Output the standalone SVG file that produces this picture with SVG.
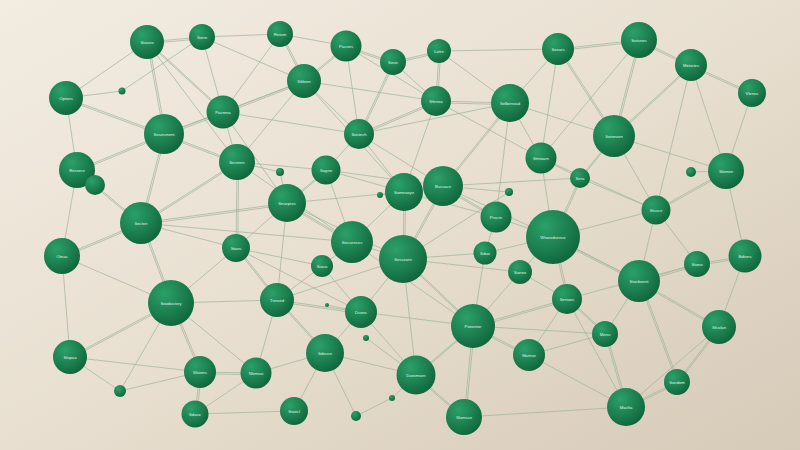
<svg xmlns="http://www.w3.org/2000/svg" xmlns:xlink="http://www.w3.org/1999/xlink" width="800" height="450" viewBox="0 0 800 450">
<defs>
<linearGradient id="bg" x1="0" y1="0" x2="1" y2="1">
<stop offset="0" stop-color="#f2ece1"/>
<stop offset="0.5" stop-color="#e8dfd0"/>
<stop offset="1" stop-color="#d6cab8"/>
</linearGradient>
<radialGradient id="ng" cx="0.35" cy="0.3" r="0.8">
<stop offset="0" stop-color="#2ca069"/>
<stop offset="0.55" stop-color="#1b7f4e"/>
<stop offset="1" stop-color="#106039"/>
</radialGradient>
<style>
.e line{stroke:#9bb098;stroke-width:0.75;fill:none;opacity:0.9}
.n circle{fill:url(#ng)}
.n text{font-family:"Liberation Sans",Arial,sans-serif;font-size:4.2px;fill:#e3f0e7;text-anchor:middle;dominant-baseline:central}
</style>
</defs>
<rect width="800" height="450" fill="url(#bg)"/>
<g id="connectors" class="e">
<g id="single">
<line x1="202" y1="37" x2="280" y2="34"/>
<line x1="280" y1="34" x2="346" y2="46"/>
<line x1="439" y1="51" x2="558" y2="49"/>
<line x1="147" y1="42" x2="66" y2="98"/>
<line x1="202" y1="37" x2="122" y2="91"/>
<line x1="66" y1="98" x2="122" y2="91"/>
<line x1="202" y1="37" x2="223" y2="112"/>
<line x1="202" y1="37" x2="304" y2="81"/>
<line x1="66" y1="98" x2="77" y2="170"/>
<line x1="223" y1="112" x2="237" y2="162"/>
<line x1="223" y1="112" x2="280" y2="34"/>
<line x1="393" y1="62" x2="436" y2="101"/>
<line x1="304" y1="81" x2="436" y2="101"/>
<line x1="304" y1="81" x2="359" y2="134"/>
<line x1="304" y1="81" x2="237" y2="162"/>
<line x1="346" y1="46" x2="359" y2="134"/>
<line x1="439" y1="51" x2="510" y2="103"/>
<line x1="510" y1="103" x2="558" y2="49"/>
<line x1="359" y1="134" x2="510" y2="103"/>
<line x1="558" y1="49" x2="541" y2="158"/>
<line x1="639" y1="40" x2="541" y2="158"/>
<line x1="752" y1="93" x2="726" y2="171"/>
<line x1="691" y1="65" x2="726" y2="171"/>
<line x1="691" y1="65" x2="656" y2="210"/>
<line x1="510" y1="103" x2="541" y2="158"/>
<line x1="510" y1="103" x2="496" y2="217"/>
<line x1="510" y1="103" x2="614" y2="136"/>
<line x1="77" y1="170" x2="95" y2="185"/>
<line x1="77" y1="170" x2="62" y2="256"/>
<line x1="141" y1="223" x2="236" y2="248"/>
<line x1="236" y1="248" x2="287" y2="203"/>
<line x1="326" y1="170" x2="237" y2="162"/>
<line x1="326" y1="170" x2="359" y2="134"/>
<line x1="326" y1="170" x2="404" y2="192"/>
<line x1="287" y1="203" x2="280" y2="172"/>
<line x1="280" y1="172" x2="237" y2="162"/>
<line x1="404" y1="192" x2="443" y2="186"/>
<line x1="403" y1="259" x2="352" y2="242"/>
<line x1="403" y1="259" x2="485" y2="253"/>
<line x1="443" y1="186" x2="359" y2="134"/>
<line x1="404" y1="192" x2="359" y2="134"/>
<line x1="380" y1="195" x2="404" y2="192"/>
<line x1="509" y1="192" x2="443" y2="186"/>
<line x1="485" y1="253" x2="496" y2="217"/>
<line x1="520" y1="272" x2="553" y2="237"/>
<line x1="352" y1="242" x2="326" y2="170"/>
<line x1="352" y1="242" x2="322" y2="266"/>
<line x1="322" y1="266" x2="277" y2="300"/>
<line x1="541" y1="158" x2="580" y2="178"/>
<line x1="541" y1="158" x2="553" y2="237"/>
<line x1="614" y1="136" x2="656" y2="210"/>
<line x1="691" y1="172" x2="726" y2="171"/>
<line x1="726" y1="171" x2="745" y2="256"/>
<line x1="656" y1="210" x2="697" y2="264"/>
<line x1="656" y1="210" x2="639" y2="281"/>
<line x1="553" y1="237" x2="656" y2="210"/>
<line x1="553" y1="237" x2="496" y2="217"/>
<line x1="553" y1="237" x2="485" y2="253"/>
<line x1="171" y1="303" x2="277" y2="300"/>
<line x1="171" y1="303" x2="120" y2="391"/>
<line x1="70" y1="357" x2="120" y2="391"/>
<line x1="70" y1="357" x2="200" y2="372"/>
<line x1="120" y1="391" x2="200" y2="372"/>
<line x1="195" y1="414" x2="256" y2="373"/>
<line x1="195" y1="414" x2="294" y2="411"/>
<line x1="256" y1="373" x2="277" y2="300"/>
<line x1="62" y1="256" x2="171" y2="303"/>
<line x1="62" y1="256" x2="70" y2="357"/>
<line x1="171" y1="303" x2="236" y2="248"/>
<line x1="277" y1="300" x2="287" y2="203"/>
<line x1="361" y1="312" x2="325" y2="353"/>
<line x1="325" y1="353" x2="416" y2="375"/>
<line x1="325" y1="353" x2="256" y2="373"/>
<line x1="294" y1="411" x2="325" y2="353"/>
<line x1="392" y1="398" x2="416" y2="375"/>
<line x1="356" y1="416" x2="392" y2="398"/>
<line x1="325" y1="353" x2="356" y2="416"/>
<line x1="416" y1="375" x2="361" y2="312"/>
<line x1="403" y1="259" x2="416" y2="375"/>
<line x1="366" y1="338" x2="416" y2="375"/>
<line x1="327" y1="305" x2="361" y2="312"/>
<line x1="567" y1="299" x2="529" y2="355"/>
<line x1="529" y1="355" x2="626" y2="407"/>
<line x1="464" y1="417" x2="626" y2="407"/>
<line x1="605" y1="334" x2="473" y2="326"/>
<line x1="567" y1="299" x2="520" y2="272"/>
<line x1="473" y1="326" x2="520" y2="272"/>
<line x1="639" y1="281" x2="605" y2="334"/>
<line x1="745" y1="256" x2="719" y2="327"/>
<line x1="147" y1="42" x2="237" y2="162"/>
<line x1="164" y1="134" x2="304" y2="81"/>
<line x1="223" y1="112" x2="287" y2="203"/>
<line x1="352" y1="242" x2="473" y2="326"/>
<line x1="287" y1="203" x2="404" y2="192"/>
<line x1="141" y1="223" x2="352" y2="242"/>
<line x1="361" y1="312" x2="473" y2="326"/>
<line x1="236" y1="248" x2="361" y2="312"/>
<line x1="443" y1="186" x2="580" y2="178"/>
<line x1="614" y1="136" x2="726" y2="171"/>
<line x1="553" y1="237" x2="639" y2="281"/>
<line x1="403" y1="259" x2="520" y2="272"/>
<line x1="436" y1="101" x2="404" y2="192"/>
<line x1="346" y1="46" x2="436" y2="101"/>
<line x1="567" y1="299" x2="697" y2="264"/>
<line x1="223" y1="112" x2="359" y2="134"/>
<line x1="304" y1="81" x2="404" y2="192"/>
<line x1="326" y1="170" x2="443" y2="186"/>
<line x1="352" y1="242" x2="404" y2="192"/>
<line x1="287" y1="203" x2="403" y2="259"/>
<line x1="237" y1="162" x2="352" y2="242"/>
<line x1="403" y1="259" x2="509" y2="192"/>
<line x1="404" y1="192" x2="496" y2="217"/>
<line x1="443" y1="186" x2="553" y2="237"/>
<line x1="436" y1="101" x2="541" y2="158"/>
<line x1="580" y1="178" x2="656" y2="210"/>
<line x1="541" y1="158" x2="656" y2="210"/>
<line x1="277" y1="300" x2="403" y2="259"/>
<line x1="361" y1="312" x2="403" y2="259"/>
<line x1="322" y1="266" x2="361" y2="312"/>
<line x1="171" y1="303" x2="256" y2="373"/>
<line x1="236" y1="248" x2="322" y2="266"/>
<line x1="473" y1="326" x2="485" y2="253"/>
<line x1="529" y1="355" x2="605" y2="334"/>
<line x1="567" y1="299" x2="626" y2="407"/>
<line x1="719" y1="327" x2="626" y2="407"/>
</g>
<g id="dh">
<line x1="147" y1="42" x2="202" y2="37"/>
<line x1="346" y1="46" x2="393" y2="62"/>
<line x1="393" y1="62" x2="439" y2="51"/>
<line x1="558" y1="49" x2="639" y2="40"/>
<line x1="639" y1="40" x2="691" y2="65"/>
<line x1="691" y1="65" x2="752" y2="93"/>
<line x1="66" y1="98" x2="164" y2="134"/>
<line x1="223" y1="112" x2="164" y2="134"/>
<line x1="223" y1="112" x2="304" y2="81"/>
<line x1="346" y1="46" x2="304" y2="81"/>
<line x1="436" y1="101" x2="510" y2="103"/>
<line x1="436" y1="101" x2="359" y2="134"/>
<line x1="691" y1="65" x2="614" y2="136"/>
<line x1="77" y1="170" x2="164" y2="134"/>
<line x1="141" y1="223" x2="237" y2="162"/>
<line x1="141" y1="223" x2="95" y2="185"/>
<line x1="141" y1="223" x2="62" y2="256"/>
<line x1="141" y1="223" x2="287" y2="203"/>
<line x1="164" y1="134" x2="237" y2="162"/>
<line x1="352" y1="242" x2="287" y2="203"/>
<line x1="496" y1="217" x2="443" y2="186"/>
<line x1="614" y1="136" x2="580" y2="178"/>
<line x1="726" y1="171" x2="656" y2="210"/>
<line x1="697" y1="264" x2="745" y2="256"/>
<line x1="639" y1="281" x2="697" y2="264"/>
<line x1="553" y1="237" x2="639" y2="281"/>
<line x1="171" y1="303" x2="70" y2="357"/>
<line x1="200" y1="372" x2="256" y2="373"/>
<line x1="277" y1="300" x2="361" y2="312"/>
<line x1="416" y1="375" x2="464" y2="417"/>
<line x1="473" y1="326" x2="529" y2="355"/>
<line x1="639" y1="281" x2="719" y2="327"/>
<line x1="677" y1="382" x2="626" y2="407"/>
<line x1="473" y1="326" x2="567" y2="299"/>
</g>
<g id="dv">
<line x1="147" y1="42" x2="164" y2="134"/>
<line x1="147" y1="42" x2="223" y2="112"/>
<line x1="280" y1="34" x2="304" y2="81"/>
<line x1="439" y1="51" x2="436" y2="101"/>
<line x1="393" y1="62" x2="359" y2="134"/>
<line x1="558" y1="49" x2="614" y2="136"/>
<line x1="639" y1="40" x2="614" y2="136"/>
<line x1="510" y1="103" x2="443" y2="186"/>
<line x1="141" y1="223" x2="164" y2="134"/>
<line x1="141" y1="223" x2="171" y2="303"/>
<line x1="236" y1="248" x2="237" y2="162"/>
<line x1="287" y1="203" x2="326" y2="170"/>
<line x1="403" y1="259" x2="443" y2="186"/>
<line x1="403" y1="259" x2="404" y2="192"/>
<line x1="403" y1="259" x2="473" y2="326"/>
<line x1="580" y1="178" x2="553" y2="237"/>
<line x1="553" y1="237" x2="567" y2="299"/>
<line x1="171" y1="303" x2="200" y2="372"/>
<line x1="200" y1="372" x2="195" y2="414"/>
<line x1="277" y1="300" x2="236" y2="248"/>
<line x1="277" y1="300" x2="325" y2="353"/>
<line x1="416" y1="375" x2="473" y2="326"/>
<line x1="473" y1="326" x2="464" y2="417"/>
<line x1="567" y1="299" x2="605" y2="334"/>
<line x1="605" y1="334" x2="626" y2="407"/>
<line x1="719" y1="327" x2="677" y2="382"/>
<line x1="639" y1="281" x2="677" y2="382"/>
</g>
<use href="#dh" xlink:href="#dh" transform="translate(0,1.7)"/>
<use href="#dv" xlink:href="#dv" transform="translate(1.7,0)"/>
</g>
<g id="nodes" class="n">
<g id="n01"><circle cx="147" cy="42" r="17"/><text x="147" y="42">Stasno</text></g>
<g id="n02"><circle cx="202" cy="37" r="13"/><text x="202" y="37">Sorro</text></g>
<g id="n03"><circle cx="280" cy="34" r="13"/><text x="280" y="34">Retum</text></g>
<g id="n04"><circle cx="346" cy="46" r="15.5"/><text x="346" y="46">Pacnes</text></g>
<g id="n05"><circle cx="393" cy="62" r="13"/><text x="393" y="62">Seun</text></g>
<g id="n06"><circle cx="439" cy="51" r="12"/><text x="439" y="51">Lotre</text></g>
<g id="n07"><circle cx="558" cy="49" r="16"/><text x="558" y="49">Sezars</text></g>
<g id="n08"><circle cx="639" cy="40" r="18"/><text x="639" y="40">Sotunes</text></g>
<g id="n09"><circle cx="691" cy="65" r="16"/><text x="691" y="65">Metories</text></g>
<g id="n10"><circle cx="752" cy="93" r="14"/><text x="752" y="93">Vlenes</text></g>
<g id="n11"><circle cx="66" cy="98" r="17"/><text x="66" y="98">Optons</text></g>
<g id="n12"><circle cx="122" cy="91" r="3.5"/></g>
<g id="n13"><circle cx="223" cy="112" r="16.5"/><text x="223" y="112">Pacmna</text></g>
<g id="n14"><circle cx="304" cy="81" r="17"/><text x="304" y="81">Sfdeen</text></g>
<g id="n15"><circle cx="436" cy="101" r="15"/><text x="436" y="101">Sfenea</text></g>
<g id="n16"><circle cx="510" cy="103" r="19"/><text x="510" y="103">Selbenoad</text></g>
<g id="n17"><circle cx="614" cy="136" r="21"/><text x="614" y="136">Sotonzen</text></g>
<g id="n18"><circle cx="164" cy="134" r="20"/><text x="164" y="134">Sosesment</text></g>
<g id="n19"><circle cx="77" cy="170" r="18"/><text x="77" y="170">Resorce</text></g>
<g id="n20"><circle cx="95" cy="185" r="10"/></g>
<g id="n21"><circle cx="237" cy="162" r="18"/><text x="237" y="162">Sesmen</text></g>
<g id="n22"><circle cx="359" cy="134" r="15"/><text x="359" y="134">Sostech</text></g>
<g id="n23"><circle cx="326" cy="170" r="14.5"/><text x="326" y="170">Sagno</text></g>
<g id="n24"><circle cx="280" cy="172" r="4"/></g>
<g id="n25"><circle cx="541" cy="158" r="15.5"/><text x="541" y="158">Stntoarn</text></g>
<g id="n26"><circle cx="580" cy="178" r="10"/><text x="580" y="178">Sera</text></g>
<g id="n27"><circle cx="691" cy="172" r="5"/></g>
<g id="n28"><circle cx="726" cy="171" r="18"/><text x="726" y="171">Slomen</text></g>
<g id="n29"><circle cx="141" cy="223" r="21"/><text x="141" y="223">Secton</text></g>
<g id="n30"><circle cx="287" cy="203" r="19"/><text x="287" y="203">Sesepres</text></g>
<g id="n31"><circle cx="404" cy="192" r="19"/><text x="404" y="192">Someaeye</text></g>
<g id="n32"><circle cx="443" cy="186" r="20"/><text x="443" y="186">Bussace</text></g>
<g id="n33"><circle cx="380" cy="195" r="3"/></g>
<g id="n34"><circle cx="509" cy="192" r="4"/></g>
<g id="n35"><circle cx="496" cy="217" r="15.5"/><text x="496" y="217">Pracre</text></g>
<g id="n36"><circle cx="553" cy="237" r="27"/><text x="553" y="237">Wtoexdsence</text></g>
<g id="n37"><circle cx="656" cy="210" r="14.5"/><text x="656" y="210">Stssce</text></g>
<g id="n38"><circle cx="62" cy="256" r="18"/><text x="62" y="256">Oteas</text></g>
<g id="n39"><circle cx="236" cy="248" r="14"/><text x="236" y="248">Stans</text></g>
<g id="n40"><circle cx="352" cy="242" r="21"/><text x="352" y="242">Sessences</text></g>
<g id="n41"><circle cx="403" cy="259" r="24"/><text x="403" y="259">Sessearn</text></g>
<g id="n42"><circle cx="322" cy="266" r="11"/><text x="322" y="266">Siaso</text></g>
<g id="n43"><circle cx="485" cy="253" r="11.5"/><text x="485" y="253">Sdoo</text></g>
<g id="n44"><circle cx="520" cy="272" r="12"/><text x="520" y="272">Saneo</text></g>
<g id="n45"><circle cx="697" cy="264" r="13"/><text x="697" y="264">Stono</text></g>
<g id="n46"><circle cx="745" cy="256" r="16.5"/><text x="745" y="256">Bdtons</text></g>
<g id="n47"><circle cx="639" cy="281" r="21"/><text x="639" y="281">Stosbonnt</text></g>
<g id="n48"><circle cx="171" cy="303" r="23"/><text x="171" y="303">Soodoctory</text></g>
<g id="n49"><circle cx="277" cy="300" r="17"/><text x="277" y="300">Tneoed</text></g>
<g id="n50"><circle cx="361" cy="312" r="16"/><text x="361" y="312">Dsens</text></g>
<g id="n51"><circle cx="473" cy="326" r="22"/><text x="473" y="326">Poeonne</text></g>
<g id="n52"><circle cx="567" cy="299" r="15"/><text x="567" y="299">Sertaes</text></g>
<g id="n53"><circle cx="605" cy="334" r="13"/><text x="605" y="334">Menu</text></g>
<g id="n54"><circle cx="719" cy="327" r="17"/><text x="719" y="327">Sfcolan</text></g>
<g id="n55"><circle cx="70" cy="357" r="17"/><text x="70" y="357">Slopaa</text></g>
<g id="n56"><circle cx="120" cy="391" r="6"/></g>
<g id="n57"><circle cx="200" cy="372" r="16"/><text x="200" y="372">Waiees</text></g>
<g id="n58"><circle cx="256" cy="373" r="15.5"/><text x="256" y="373">Nlemoo</text></g>
<g id="n59"><circle cx="325" cy="353" r="19"/><text x="325" y="353">Sdeuce</text></g>
<g id="n60"><circle cx="327" cy="305" r="2"/></g>
<g id="n61"><circle cx="366" cy="338" r="3"/></g>
<g id="n62"><circle cx="416" cy="375" r="19.5"/><text x="416" y="375">Daromsen</text></g>
<g id="n63"><circle cx="529" cy="355" r="16"/><text x="529" y="355">Mamse</text></g>
<g id="n64"><circle cx="677" cy="382" r="13"/><text x="677" y="382">Sandom</text></g>
<g id="n65"><circle cx="626" cy="407" r="19"/><text x="626" y="407">Macfta</text></g>
<g id="n66"><circle cx="195" cy="414" r="13.5"/><text x="195" y="414">Sdase</text></g>
<g id="n67"><circle cx="294" cy="411" r="14"/><text x="294" y="411">Snatcl</text></g>
<g id="n68"><circle cx="356" cy="416" r="5"/></g>
<g id="n69"><circle cx="392" cy="398" r="3"/></g>
<g id="n70"><circle cx="464" cy="417" r="18"/><text x="464" y="417">Slamsse</text></g>
</g>
</svg>
